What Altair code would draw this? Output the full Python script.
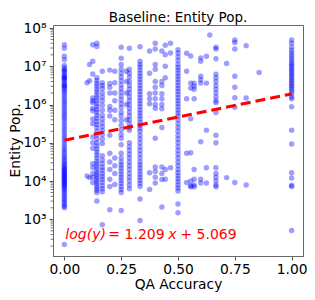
import altair as alt
import pandas as pd

# log10(Entity Pop.), grouped by QA accuracy value
col_000 = [7.56, 7.47, 7.26, 7.17, 7.02, 6.96, 6.9, 6.85, 6.8, 6.76, 6.72, 6.68, 6.64, 6.6, 6.55, 6.5,
           6.46, 6.42, 6.37, 6.32, 6.26, 6.2, 6.14, 6.08, 6.02, 5.96, 5.9, 5.84, 5.78, 5.72, 5.66, 5.6,
           5.53, 5.46, 5.39, 5.32, 5.25, 5.18, 5.11, 5.04, 4.97, 4.9, 4.84, 4.78, 4.72, 4.66, 4.61, 4.56,
           4.51, 4.46, 4.42, 4.38, 4.34, 4.3, 4.26, 4.22, 4.18, 4.14, 4.1, 4.06, 4.02, 3.98, 3.94, 3.9,
           3.86, 3.82, 3.78, 3.74, 3.69, 3.64, 3.59, 3.54, 3.49, 3.44, 3.39, 3.34, 3.3, 2.34,
           6.9, 6.7, 6.5, 4.3, 4.2, 4.1, 4.0, 3.9]
col_100 = [6.57, 4.13]
col_111 = [7.05, 6.62, 4.09]
col_125 = [7.56, 7.13, 6.8, 6.17, 6.1, 6.05, 5.9, 5.84, 5.62, 5.5, 5.15, 5.0, 4.86, 4.45, 4.35, 4.2, 4.1, 3.96]
col_143 = [7.6, 7.52, 6.7, 6.62, 6.55, 6.48, 6.4, 6.33, 6.25, 6.18, 6.1, 6.02, 5.95, 5.87, 5.8, 5.72,
           5.64, 5.56, 5.48, 5.4, 5.3, 5.2, 5.1, 5.0, 4.92, 4.84, 4.76, 4.68, 4.6, 4.52, 4.45, 4.38,
           4.31, 4.24, 4.18, 4.12, 4.06, 4.0, 3.94, 3.88, 3.82, 3.76, 3.7, 3.48]
col_167 = [6.87, 6.57, 6.5, 6.42, 6.3, 6.2, 6.1, 5.98, 5.85, 5.72, 5.62, 5.52, 5.42, 5.32, 5.22, 5.1,
           4.98, 4.66, 4.55, 4.45, 4.36, 4.28, 4.2, 4.12, 4.05, 3.97, 3.88, 3.8, 3.72, 2.86]
col_200 = [6.9, 6.55, 6.45, 6.3, 5.95, 5.85, 5.7, 5.2, 4.73, 4.5, 4.3, 4.05, 3.86, 3.25]
col_222 = [6.87, 6.57, 6.3, 6.1, 5.85, 5.6, 4.6, 4.4, 4.2, 3.91]
col_250 = [7.5, 7.21, 7.05, 6.92, 6.82, 6.72, 6.62, 6.52, 6.42, 6.32, 6.22, 6.12, 6.02, 5.92, 5.8, 5.7,
           5.58, 5.46, 5.34, 5.22, 5.12, 4.95, 4.73, 4.6, 4.5, 4.42, 4.34, 4.26, 4.18, 4.1, 4.02, 3.94,
           3.86, 3.78, 3.7, 3.23]
col_273 = [6.87, 6.6, 6.3, 6.0, 5.6]
col_286 = [7.47, 6.92, 6.82, 6.72, 6.6, 6.5, 6.4, 6.3, 6.2, 6.1, 6.0, 5.9, 5.8, 5.7, 5.6, 5.5, 5.4,
           5.33, 5.0, 4.9, 4.8, 4.7, 4.6, 4.5, 4.4, 4.3, 4.2, 4.1, 4.0, 3.9, 3.8]
col_333 = [7.51, 7.13, 7.05, 6.98, 6.9, 6.82, 6.74, 6.66, 6.58, 6.5, 6.42, 6.34, 6.26, 6.18, 6.1, 6.02,
           5.94, 5.86, 5.78, 5.7, 5.62, 5.54, 5.46, 5.38, 5.3, 5.2, 5.1, 5.0, 4.9, 4.8, 4.7, 4.6, 4.5,
           4.42, 4.34, 4.26, 4.18, 4.1, 4.02, 3.94, 3.86, 3.53, 2.97]
col_375 = [7.4, 6.82, 6.28, 6.15, 6.02, 4.22, 3.78]
col_400 = [7.6, 7.45, 7.05, 6.92, 6.6, 6.45, 6.3, 6.15, 6.0, 5.9, 5.12, 4.37, 4.25, 4.1, 3.95]
col_429 = [7.4, 6.6, 6.5, 6.28, 6.15, 6.0, 5.89, 5.4, 4.37, 4.2, 4.04, 3.32]
col_444 = [7.55, 7.3, 7.0, 6.7, 4.3, 4.05]
col_467 = [7.6, 7.35, 4.35]
col_500 = [7.43, 7.35, 7.25, 7.15, 7.05, 6.97, 6.9, 6.82, 6.74, 6.66, 6.58, 6.5, 6.42, 6.34, 6.26, 6.18,
           6.1, 6.02, 5.94, 5.86, 5.78, 5.7, 5.6, 5.5, 5.4, 5.3, 5.2, 5.1, 5.0, 4.9, 4.8, 4.7, 4.6, 4.5,
           4.4, 4.3, 4.22, 4.14, 4.06, 3.98, 3.9, 3.82, 3.74, 3.4, 3.17]
col_538 = [7.34, 6.87, 6.15, 4.73, 3.96]
col_556 = [7.27, 6.56, 6.43, 5.63, 4.74, 4.0, 3.88, 3.85]
col_571 = [6.56, 6.48, 6.4, 6.15, 4.3, 4.05, 3.9, 3.85]
col_600 = [7.22, 7.13, 6.74, 6.65, 6.56, 5.03, 4.05, 3.95]
col_625 = [7.26, 6.56, 5.33, 4.35, 3.95]
col_640 = [7.82]
col_667 = [7.5, 7.45, 7.2, 6.79, 6.7, 6.6, 6.5, 6.4, 6.3, 6.2, 6.1, 6.05, 5.79, 5.2, 5.0, 4.35, 4.2,
           4.1, 4.0, 3.9, 3.85]
col_714 = [7.07, 4.09]
col_750 = [7.69, 7.62, 7.45, 6.74, 6.45, 6.18, 5.93, 3.96]
col_800 = [7.54, 6.17, 3.9]
col_857 = [6.84]
col_1000 = [7.69, 7.6, 7.5, 7.42, 7.35, 7.28, 7.22, 7.16, 7.1, 7.05, 7.0, 6.95, 6.9, 6.85, 6.8, 6.75,
            6.7, 6.65, 6.6, 6.55, 6.5, 6.45, 6.4, 6.35, 6.28, 6.2, 6.15, 5.94, 5.33, 4.97, 4.22, 4.08,
            3.89, 3.86, 2.71]

columns = {
    0.0: col_000, 0.1: col_100, 0.111: col_111, 0.125: col_125, 0.143: col_143, 0.167: col_167,
    0.2: col_200, 0.222: col_222, 0.25: col_250, 0.273: col_273, 0.286: col_286, 0.333: col_333,
    0.375: col_375, 0.4: col_400, 0.429: col_429, 0.444: col_444, 0.467: col_467, 0.5: col_500,
    0.538: col_538, 0.556: col_556, 0.571: col_571, 0.6: col_600, 0.625: col_625, 0.64: col_640,
    0.667: col_667, 0.714: col_714, 0.75: col_750, 0.8: col_800, 0.857: col_857, 1.0: col_1000,
}

rows = []
for xv, logs in columns.items():
    for lv in logs:
        rows.append({"acc": xv, "pop": 10 ** lv})
df = pd.DataFrame(rows)

# fitted line endpoints: log(y) = 1.209 x + 5.069
line_x = [0.0, 1.0]
line_y = [1.172e5, 1.897e6]
line_df = pd.DataFrame({"acc": line_x, "pop": line_y})

eq_parts = ["log(y)", "= 1.209", "x", "+ 5.069"]
eq_style = ["italic", "normal", "italic", "normal"]
eq_dx = [1, 44, 104, 116]
eq_df = pd.DataFrame({"t": eq_parts, "acc": [0.0] * 4, "pop": [380.0] * 4})

title_text = ["Baseline: Entity Pop."]
title_df = pd.DataFrame({"t": title_text})

x_ticks = [0.0, 0.25, 0.5, 0.75, 1.0]
y_ticks = [1e3, 1e4, 1e5, 1e6, 1e7, 1e8]
minor_ticks = [m * 10 ** e for e in range(2, 8) for m in range(2, 10)]
minor_ticks = [v for v in minor_ticks if 115 <= v <= 1.2e8]
minor_df = pd.DataFrame({"pop": minor_ticks})

FONT = "DejaVu Sans"
xscale = alt.Scale(domain=[-0.05, 1.05], nice=False, zero=False)
yscale = alt.Scale(type="log", domain=[110, 1.2e8], nice=False)

label_expr = ("datum.value == 1000 ? '10³' : datum.value == 10000 ? '10⁴' : "
              "datum.value == 100000 ? '10⁵' : datum.value == 1000000 ? '10⁶' : "
              "datum.value == 10000000 ? '10⁷' : '10⁸'")

points = alt.Chart(df).mark_circle(size=30, color="#0000ff", opacity=0.38).encode(
    x=alt.X("acc:Q", scale=xscale,
            axis=alt.Axis(values=x_ticks, format=".2f", title="QA Accuracy", grid=False,
                          tickSize=4, labelPadding=2, titlePadding=2)),
    y=alt.Y("pop:Q", scale=yscale,
            axis=alt.Axis(values=y_ticks, labelExpr=label_expr, title="Entity Pop.", grid=False,
                          tickSize=4, labelPadding=3, titleX=-31, titleY=115)),
)

minor = alt.Chart(minor_df).mark_rule(color="#555", strokeWidth=0.8).encode(
    y=alt.Y("pop:Q", scale=yscale),
    x=alt.value(0), x2=alt.value(-2.5),
)

line = alt.Chart(line_df).mark_line(color="#ff0000", strokeWidth=3, strokeDash=[10, 5]).encode(
    x=alt.X("acc:Q", scale=xscale), y=alt.Y("pop:Q", scale=yscale),
)

texts = []
for i in range(len(eq_parts)):
    texts.append(
        alt.Chart(eq_df.iloc[[i]]).mark_text(
            color="#ff0000", fontSize=14, font=FONT, align="left", baseline="middle",
            fontStyle=eq_style[i], dx=eq_dx[i],
        ).encode(x=alt.X("acc:Q", scale=xscale), y=alt.Y("pop:Q", scale=yscale), text="t:N")
    )

title_mark = alt.Chart(title_df).mark_text(
    fontSize=13.5, font=FONT, color="black", align="center", baseline="alphabetic",
).encode(x=alt.value(125), y=alt.value(-3.5), text="t:N")

chart = alt.layer(points, minor, line, *texts, title_mark).properties(
    width=250, height=231,
    autosize=alt.AutoSizeParams(type="none"),
    padding={"left": 45, "top": 17, "right": 4, "bottom": 36},
).configure_view(stroke="#666", strokeWidth=1).configure_axis(
    labelFont=FONT, titleFont=FONT, labelFontSize=13.8, titleFontSize=13.8,
    labelColor="black", titleColor="black", titleFontWeight="normal",
    domainColor="#666", tickColor="#555", domainWidth=1,
)

chart.save("out.html", embed_options={"renderer": "svg", "actions": False})
